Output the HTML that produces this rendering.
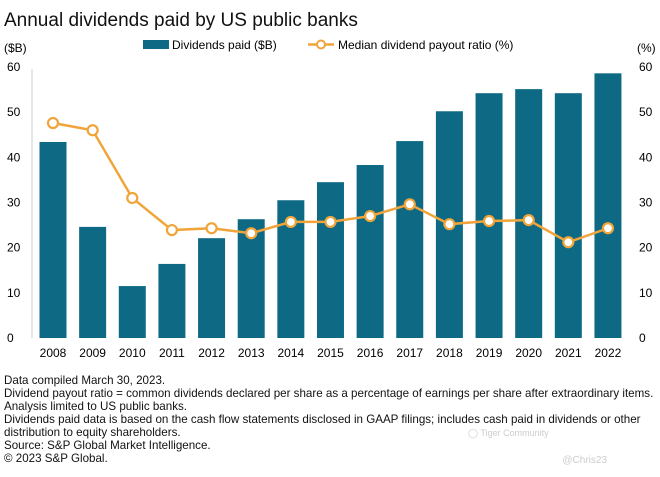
<!DOCTYPE html>
<html><head><meta charset="utf-8"><style>
body{margin:0;background:#fff;width:660px;height:477px;overflow:hidden;font-family:"Liberation Sans",sans-serif;color:#111}
svg text{font-family:"Liberation Sans",sans-serif}
.note{position:absolute;left:4px;top:374px;font-size:11.6px;line-height:13px;color:#111;white-space:nowrap}
</style></head><body>
<svg id="chart" width="660" height="477" style="position:absolute;left:0;top:0">
<text x="4" y="26" font-size="19" fill="#111">Annual dividends paid by US public banks</text>
<text x="4" y="52" font-size="12">($B)</text>
<text x="637" y="52" font-size="12">(%)</text>
<g>
<rect x="143" y="40" width="26" height="9" fill="#0e6a84"></rect>
<text x="172" y="49" font-size="12">Dividends paid ($B)</text>
<line x1="308" y1="44.5" x2="334" y2="44.5" stroke="#f0a43a" stroke-width="2.5"></line>
<circle cx="321" cy="44.5" r="4" fill="#fff" stroke="#f0a43a" stroke-width="2"></circle>
<text x="338" y="49" font-size="12">Median dividend payout ratio (%)</text>
</g>
<line x1="32" y1="69" x2="32" y2="338" stroke="#ccc"></line>
<g id="ticks"></g><g id="bars"></g><g id="line"></g>
<text x="468" y="436" font-size="9" fill="#ccc">◯ Tiger Community</text>
<text x="607" y="463" font-size="10" fill="#ccc" text-anchor="end">@Chris23</text>
</svg>
<div class="note">Data compiled March 30, 2023.<br>Dividend payout ratio = common dividends declared per share as a percentage of earnings per share after extraordinary items.<br>Analysis limited to US public banks.<br>Dividends paid data is based on the cash flow statements disclosed in GAAP filings; includes cash paid in dividends or other<br>distribution to equity shareholders.<br>Source: S&amp;P Global Market Intelligence.<br>© 2023 S&amp;P Global.</div>
<script>
const categories=["2008","2009","2010","2011","2012","2013","2014","2015","2016","2017","2018","2019","2020","2021","2022"];
const dividends=[43.4,24.6,11.5,16.4,22.1,26.3,30.5,34.5,38.3,43.6,50.2,54.2,55.1,54.2,58.6];
const payout=[47.6,46.0,31.0,23.9,24.3,23.2,25.7,25.7,27.0,29.6,25.2,25.9,26.1,21.2,24.3];
const yTicks=[0,10,20,30,40,50,60];
const NS="http://www.w3.org/2000/svg";
const y=v=>338-v*(338-67)/60;
const x=i=>53+i*39.64;
function mk(t,a,p){const e=document.createElementNS(NS,t);for(const k in a)e.setAttribute(k,a[k]);p.appendChild(e);return e;}
const tg=document.getElementById('ticks');
yTicks.forEach(v=>{
 const l=mk('text',{x:7,y:y(v)+4,'font-size':12},tg);l.textContent=v;
 
 
 const r=mk('text',{x:639,y:y(v)+4,'font-size':12},tg);r.textContent=v;
 
 
});
const bg=document.getElementById('bars');
categories.forEach((c,i)=>{
 const b=mk('rect',{x:x(i)-13.5,y:y(dividends[i]),width:27,height:338-y(dividends[i]),fill:'#0e6a84'},bg);
 
 
 const t=mk('text',{x:x(i),y:357,'font-size':12,'text-anchor':'middle'},bg);t.textContent=c;
 
 
});
const lg=document.getElementById('line');
const pl=mk('polyline',{points:payout.map((v,i)=>x(i)+','+y(v)).join(' '),fill:'none',stroke:'#f0a43a','stroke-width':2.5},lg);


payout.forEach((v,i)=>{
 const c=mk('circle',{cx:x(i),cy:y(v),r:5,fill:'#fff',stroke:'#f0a43a','stroke-width':2.2},lg);
 
 
});
</script>
</body></html>
